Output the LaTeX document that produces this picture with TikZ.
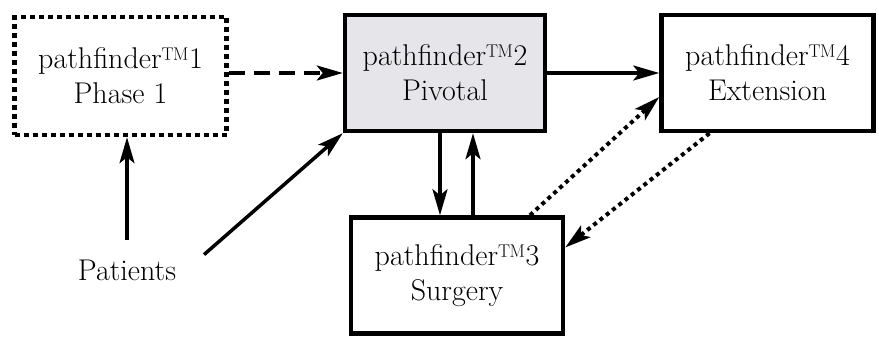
\documentclass[tikz,border=0pt]{standalone}
\usepackage{fontspec}
\usepackage{xcolor}
\usepackage{tikz}
\usetikzlibrary{arrows.meta,shapes,positioning}
\definecolor{pivotalgray}{RGB}{230,230,234}

\begin{document}
\begin{tikzpicture}[
  node distance = 82pt and 114pt,
  > = {Stealth[length=26pt,width=15pt,inset=6pt]},
  stage/.style = {rectangle, draw, line width=4.5pt, align=center,
                  minimum width=212pt, minimum height=116pt,
                  font=\fontsize{30}{35}\selectfont},
  flow/.style = {->, line width=3.5pt},
  dotflow/.style = {->, line width=4pt, dash pattern=on 4pt off 4pt}
]
\useasboundingbox (0,0) rectangle (879pt,337pt);

% ───────── top row ─────────
\node[stage, minimum height=118pt, dash pattern=on 5pt off 4pt]
      at (120.5pt,261pt) (phase1) {pathfinder™1\\Phase 1};
\node[stage, fill=pivotalgray, minimum width=200pt,
      right=of phase1, yshift=3pt] (pivotal) {pathfinder™2\\Pivotal};
\node[stage, right=112pt of pivotal] (extension) {pathfinder™4\\Extension};

% ───────── bottom row ─────────
\node[stage, below=of pivotal, xshift=12pt] (surgery) {pathfinder™3\\Surgery};

% ───────── input ─────────
\node[font=\fontsize{30}{35}\selectfont, inner sep=6pt, outer sep=14pt]
      at (127pt,67pt) (patients) {Patients};

% ───────── arrows ──────────
\draw[flow, dash pattern=on 16pt off 9pt] (phase1.east |- pivotal) -- (pivotal.west);
\draw[flow] (pivotal) -- (extension);

\draw[flow] (patients.north) -- (patients.north |- phase1.south);
\draw[flow] ([shift={(8pt,-15pt)}]patients.north east) -- (pivotal.south west);

\draw[flow] ([xshift=-5pt]pivotal.south) -- ([xshift=-5pt]pivotal.south |- surgery.north);
\draw[flow] ([xshift=28pt]pivotal.south |- surgery.north) -- ([xshift=28pt]pivotal.south);

\draw[dotflow] ([xshift=73pt]surgery.north) -- ([yshift=-24pt]extension.west);
\draw[dotflow] ([xshift=-58pt]extension.south) -- ([yshift=28pt]surgery.east);
\end{tikzpicture}
\end{document}
